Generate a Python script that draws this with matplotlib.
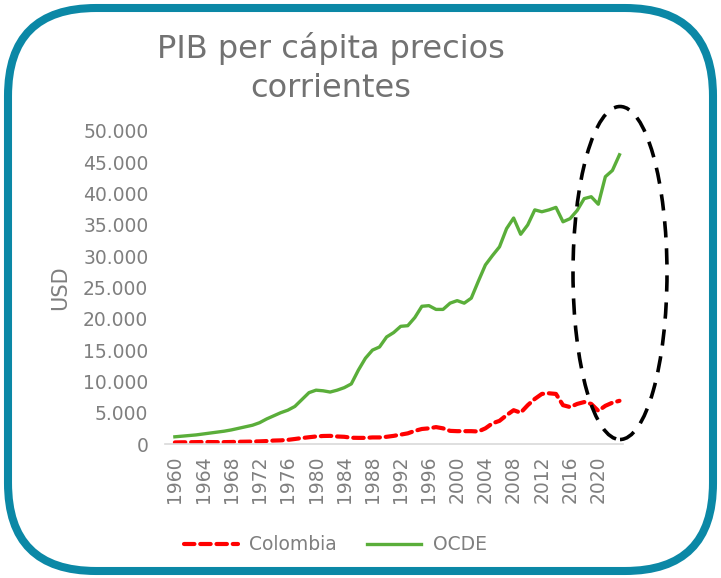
import matplotlib
matplotlib.use("Agg")
import matplotlib.pyplot as plt
from matplotlib.patches import Ellipse, FancyBboxPatch
from matplotlib.ticker import FuncFormatter
from matplotlib.transforms import IdentityTransform

years = list(range(1960, 2024))

# PIB per cápita, USD corrientes (miles)
ocde = [1.15, 1.25, 1.35, 1.45, 1.6, 1.75, 1.9, 2.05, 2.25, 2.5,
        2.75, 3.0, 3.4, 4.0, 4.5, 5.0, 5.4, 6.0, 7.1, 8.2,
        8.6, 8.5, 8.3, 8.6, 9.0, 9.6, 11.8, 13.7, 15.0, 15.5,
        17.1, 17.8, 18.8, 18.9, 20.2, 22.0, 22.1, 21.5, 21.5, 22.5,
        22.9, 22.5, 23.3, 26.0, 28.6, 30.1, 31.5, 34.4, 36.1, 33.5,
        35.0, 37.4, 37.1, 37.4, 37.8, 35.5, 36.0, 37.3, 39.2, 39.5,
        38.3, 42.7, 43.7, 46.2]
colombia = [0.25, 0.27, 0.28, 0.3, 0.32, 0.31, 0.3, 0.3, 0.32, 0.35,
            0.37, 0.39, 0.42, 0.47, 0.55, 0.58, 0.66, 0.8, 0.95, 1.08,
            1.2, 1.28, 1.3, 1.2, 1.15, 1.0, 0.98, 0.98, 1.05, 1.05,
            1.15, 1.3, 1.5, 1.7, 2.1, 2.4, 2.5, 2.7, 2.5, 2.1,
            2.05, 2.05, 2.05, 2.0, 2.5, 3.3, 3.7, 4.6, 5.4, 5.0,
            6.2, 7.2, 8.0, 8.1, 8.0, 6.2, 5.9, 6.4, 6.7, 6.4,
            5.3, 6.1, 6.6, 6.9]
ocde = [v * 1000 for v in ocde]
colombia = [v * 1000 for v in colombia]

W, H = 721, 578
GRAY = "#7f7f7f"
plt.rcParams["font.family"] = ["DejaVu Sans"]

fig = plt.figure(figsize=(W / 100, H / 100), dpi=100)

# marco redondeado (coordenadas en píxeles, origen abajo-izquierda)
frame = FancyBboxPatch((8, 7), W - 16, H - 15,
                       boxstyle="round,pad=0,rounding_size=88",
                       transform=IdentityTransform(), fill=False,
                       edgecolor="#0b88a6", linewidth=5.8)
fig.patches.append(frame)

ax = fig.add_axes((165 / W, (H - 444) / H, (623 - 165) / W, (444 - 131) / H))
ax.plot(years, colombia, color="#ff0000", lw=3.0, ls=(0, (2.5, 1.4)),
        label="Colombia", dash_capstyle="round")
ax.plot(years, ocde, color="#5aae3a", lw=2.4, label="OCDE")

ax.set_xlim(1958.6, 2023.5)
ax.set_ylim(0, 50000)
ax.set_yticks(range(0, 50001, 5000))
ax.yaxis.set_major_formatter(FuncFormatter(lambda v, _: f"{int(v):,}".replace(",", ".")))
ax.set_xticks(range(1960, 2021, 4))
ax.tick_params(axis="x", labelrotation=90, length=0, labelsize=13.5,
               colors=GRAY, pad=8)
ax.tick_params(axis="y", length=0, labelsize=13.5, colors=GRAY, pad=12)
for s in ["top", "right", "left"]:
    ax.spines[s].set_visible(False)
ax.spines["bottom"].set_color("#d9d9d9")
ax.spines["bottom"].set_linewidth(1.2)

fig.text(60 / W, 1 - 288 / H, "USD", rotation=90, ha="center", va="center",
         color=GRAY, fontsize=15)

fig.text(331 / W, 1 - 68 / H, "PIB per cápita precios\ncorrientes",
         ha="center", va="center", fontsize=23, color="#727272",
         linespacing=1.3)

leg = fig.legend(loc="center", bbox_to_anchor=(335 / W, 1 - 545 / H),
                 ncol=2, frameon=False, fontsize=13.5, handlelength=2.9,
                 columnspacing=1.6, handletextpad=0.6)
for t in leg.get_texts():
    t.set_color(GRAY)

ell = Ellipse((620 / W, 1 - 273 / H), 94 / W, 333 / H,
              transform=fig.transFigure, fill=False, edgecolor="black",
              linewidth=2.6, linestyle=(0, (4.5, 3)))
fig.patches.append(ell)

fig.savefig("out.png", dpi=100)
